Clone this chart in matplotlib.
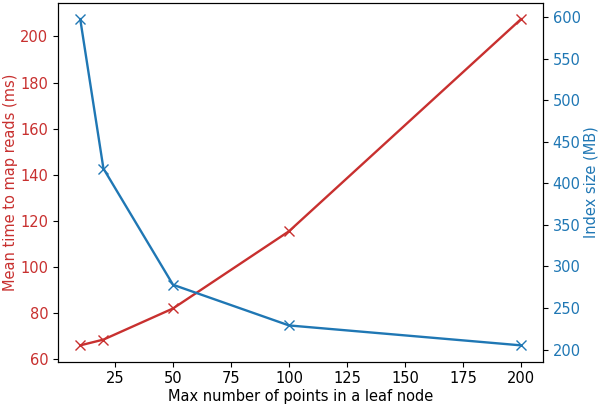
import matplotlib
matplotlib.use("Agg")
import matplotlib.pyplot as plt

# leaf size vs mapping time and index size
leaf_size = [10, 20, 50, 100, 200]
map_time_ms = [66.0, 68.5, 82.0, 115.5, 207.5]
index_size_mb = [598, 418, 278, 229, 205]

plt.rcParams["font.size"] = 10.5

fig, ax1 = plt.subplots(figsize=(6, 4.05), dpi=100)

color1 = "#c8302f"
ax1.set_xlabel("Max number of points in a leaf node", labelpad=2)
ax1.set_ylabel("Mean time to map reads (ms)", color=color1, labelpad=2)
ax1.plot(leaf_size, map_time_ms, color=color1, marker="x", markersize=7, linewidth=1.7)
ax1.tick_params(axis="y", labelcolor=color1)

ax2 = ax1.twinx()
color2 = "#1f77b4"
ax2.set_ylabel("Index size (MB)", color=color2, labelpad=2)
ax2.plot(leaf_size, index_size_mb, color=color2, marker="x", markersize=7, linewidth=1.7)
ax2.tick_params(axis="y", labelcolor=color2)

fig.subplots_adjust(left=0.097, right=0.905, top=0.993, bottom=0.107)
plt.savefig("out.png")
